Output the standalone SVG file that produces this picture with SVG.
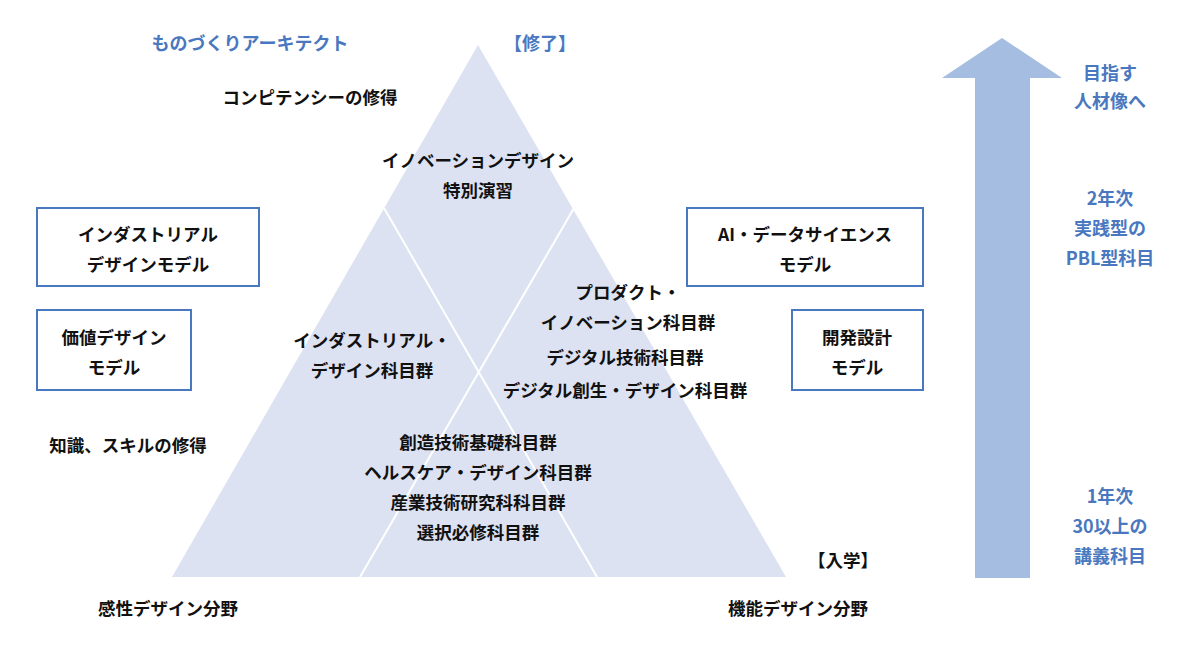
<svg xmlns="http://www.w3.org/2000/svg" width="1200" height="653" viewBox="0 0 1200 653">
<style>
text{font-family:"Noto Sans CJK JP",sans-serif;font-size:17.5px;font-weight:bold;fill:#111;text-anchor:middle}
.b{fill:#4a78c0;font-size:18px}
.box{fill:#fff;stroke:#4a78c0;stroke-width:2}
.wl{stroke:#fff;stroke-width:2}
</style>
<rect width="1200" height="653" fill="#fff"/>
<g id="pyramid">
<polygon points="478,45 172,577 786,577" fill="#dde2f2"/>
</g>
<g id="connectors">
<line class="wl" x1="384" y1="208" x2="597" y2="577"/>
<line class="wl" x1="574" y1="208" x2="360" y2="577"/>
</g>
<g id="arrow"><polygon points="975,578 975,78 942,78 1002,38 1062,78 1030,78 1030,578" fill="#a4bde0"/></g>
<text class="b" x="250" y="50">ものづくりアーキテクト</text>
<text class="b" x="540" y="50">【修了】</text>
<text x="310" y="104">コンピテンシーの修得</text>
<text x="478" y="167">イノベーションデザイン</text>
<text x="478" y="197">特別演習</text>
<g id="n1"><rect class="box" x="37" y="208" width="222" height="78"/><text x="148" y="241">インダストリアル</text><text x="148" y="271">デザインモデル</text></g>
<g id="n2"><rect class="box" x="37" y="310" width="154" height="80"/><text x="114" y="344">価値デザイン</text><text x="114" y="374">モデル</text></g>
<g id="n3"><rect class="box" x="687" y="208" width="236" height="78"/><text x="805" y="241">AI・データサイエンス</text><text x="805" y="271">モデル</text></g>
<g id="n4"><rect class="box" x="792" y="310" width="131" height="80"/><text x="857" y="344">開発設計</text><text x="857" y="374">モデル</text></g>
<text x="372" y="347">インダストリアル・</text>
<text x="372" y="377">デザイン科目群</text>
<text x="628" y="299">プロダクト・</text>
<text x="628" y="329">イノベーション科目群</text>
<text x="625" y="364">デジタル技術科目群</text>
<text x="625" y="397">デジタル創生・デザイン科目群</text>
<text x="478" y="449">創造技術基礎科目群</text>
<text x="478" y="479">ヘルスケア・デザイン科目群</text>
<text x="478" y="509">産業技術研究科科目群</text>
<text x="478" y="539">選択必修科目群</text>
<text x="128" y="452">知識、スキルの修得</text>
<text x="843" y="567">【入学】</text>
<text x="168" y="615">感性デザイン分野</text>
<text x="798" y="615">機能デザイン分野</text>
<text class="b" x="1110" y="80">目指す</text>
<text class="b" x="1110" y="108">人材像へ</text>
<text class="b" x="1110" y="205">2年次</text>
<text class="b" x="1110" y="235">実践型の</text>
<text class="b" x="1110" y="265">PBL型科目</text>
<text class="b" x="1110" y="503">1年次</text>
<text class="b" x="1110" y="533">30以上の</text>
<text class="b" x="1110" y="563">講義科目</text>
</svg>
